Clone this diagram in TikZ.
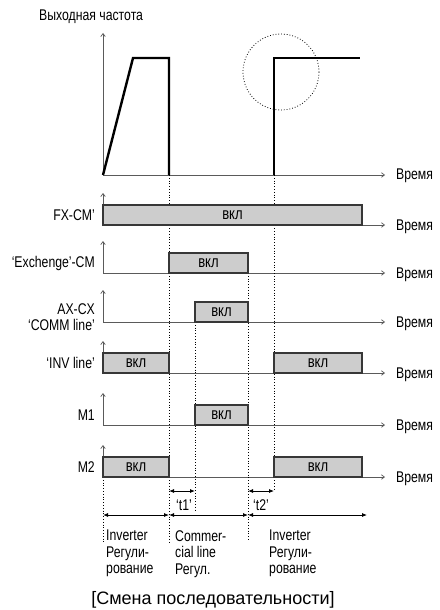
\documentclass[tikz,border=0pt]{standalone}
\usepackage{fontspec}
\setmainfont[FakeStretch=0.79]{Liberation Sans}
\newfontfamily\captionfont{Liberation Sans}
\usepackage{tikz}
\usetikzlibrary{arrows.meta, positioning}

\definecolor{ongray}{RGB}{205,205,205}
\definecolor{edgegray}{RGB}{55,55,55}
\definecolor{axisgray}{RGB}{90,90,90}

\begin{document}
\begin{tikzpicture}[x=1pt, y=-1pt, every node/.style={font=\fontsize{15.5}{16.5}\selectfont}]
        % Define styles for the timing rows
        \tikzstyle{onbox} = [rectangle, draw=edgegray, line width=1.2pt, fill=ongray, outer sep=0pt,
                             inner sep=0pt, minimum height=20pt, anchor=south west, font=\fontsize{16.5}{17}\selectfont]
        \tikzstyle{axis} = [draw=axisgray, line width=0.7pt, -{Straight Barb[length=3pt, width=4.5pt]}]
        \tikzstyle{guide} = [dotted, line width=0.8pt]
        \tikzstyle{span} = [line width=0.8pt, {Latex[length=5pt, width=4pt]}-{Latex[length=5pt, width=4pt]}]
        \tikzstyle{wave} = [line width=2.4pt]
        \tikzstyle{signal} = [anchor=east, align=right, inner sep=0pt]
        \tikzstyle{phase} = [anchor=north west, align=left, inner sep=0pt]

        \useasboundingbox (0,0) rectangle (439,610);

        % Output frequency
        \node (freq) [anchor=west, inner sep=0pt] at (39,17) {Выходная частота};
        \coordinate (fo) at (103,175);
        \coordinate (ftop) at (103,33);
        \coordinate (fend) at (385,175);
        \coordinate (peak) at (133,58);
        \coordinate (drop) at (169,175);
        \coordinate (rise) at (274,175);
        \draw [axis] (fo) -- (ftop);
        \draw [axis] (fo) -- (fend);
        \node (ftime) [right=11pt of fend, yshift=-1pt, inner sep=0pt] {Время};
        \draw [wave] (fo) -- (peak) -- (drop |- peak) -- (drop);
        \draw [wave] (rise) -- (rise |- peak) -- (360,58);
        \draw [guide] (281,72) circle [radius=38];

        % Time axes of the six signals
        \foreach \n/\y in {fx/225, ex/273, ax/322, inv/373, mone/425, mtwo/477} {
            \coordinate (o\n) at (103,\y);
            \coordinate (top\n) at (103,\y-32);
            \coordinate (end\n) at (385,\y);
            \draw [axis] (o\n) -- (top\n);
            \draw [axis] (o\n) -- (end\n);
            \node (time\n) [right=11pt of end\n, yshift=-2pt, inner sep=0pt] {Время};
        }

        % Signal names
        \node (fxname) [signal] at (95,215) {FX-CM’};
        \node (exname) [signal] at (95,263) {‘Exchenge’-CM};
        \node (axname) [signal] at (95,317) {AX-CX\\‘COMM line’};
        \node (invname) [signal] at (95,363) {‘INV line’};
        \node (monename) [signal] at (95,415) {M1};
        \node (mtwoname) [signal] at (95,467) {M2};

        % Dotted guides (under the boxes)
        \coordinate (guideend) at (0,543);
        \coordinate (tonebottom) at (0,512);
        \coordinate (ttwobottom) at (0,490);
        \draw [guide] (omtwo) -- (omtwo |- guideend);
        \draw [guide] (drop) -- (drop |- guideend);
        \draw [guide] (195,322) -- (195,512);
        \draw [guide] (248,273) -- (248,540);
        \draw [guide] (rise) -- (rise |- ttwobottom);

        % On-boxes
        \node (fxon) [onbox, minimum width=259pt] at (ofx) {вкл};
        \node (exon) [onbox, minimum width=79pt] at (169,273) {вкл};
        \node (axon) [onbox, minimum width=53pt] at (195,322) {вкл};
        \node (invon1) [onbox, minimum width=66pt] at (oinv) {вкл};
        \node (invon2) [onbox, minimum width=88pt] at (274,373) {вкл};
        \node (moneon) [onbox, minimum width=53pt] at (195,425) {вкл};
        \node (mtwoon1) [onbox, minimum width=66pt] at (omtwo) {вкл};
        \node (mtwoon2) [onbox, minimum width=88pt] at (274,477) {вкл};

        % Switching delays
        \coordinate (t1a) at (169,491);
        \coordinate (t1b) at (195,491);
        \coordinate (t2a) at (248,491);
        \coordinate (t2b) at (274,491);
        \draw [span] (t1a) -- (t1b);
        \draw [span] (t2a) -- (t2b);
        \node (tone) at (184,505) {‘t1’};
        \node (ttwo) at (261,505) {‘t2’};

        % Control phases
        \coordinate (p0) at (103,515);
        \coordinate (p1) at (169,515);
        \coordinate (p2) at (248,515);
        \coordinate (p3) at (367,515);
        \draw [span] (p0) -- (p1);
        \draw [span] (p1) -- (p2);
        \draw [span] (p2) -- (p3);
        \node (invphase1) [phase] at (106,530) {Inverter\\Регули-\\рование};
        \node (linephase) [phase] at (175,530) {Commer-\\cial line\\Регул.};
        \node (invphase2) [phase] at (269,530) {Inverter\\Регули-\\рование};

        \node (caption) at (213,600) {\captionfont\fontsize{18}{20}\selectfont [Смена последовательности]};
    \end{tikzpicture}
\end{document}
